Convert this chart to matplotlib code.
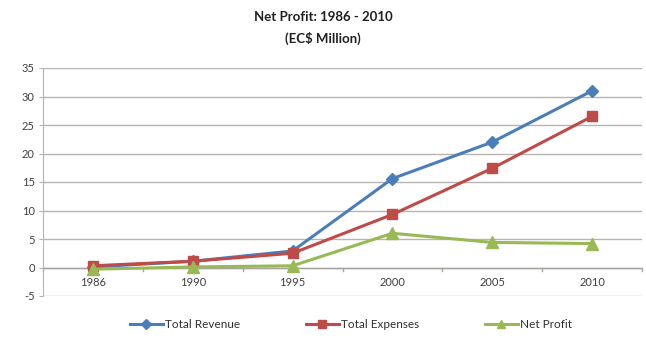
import numpy as np
import matplotlib.pyplot as plt

plt.rcParams['font.family'] = ['Lato', 'DejaVu Sans']
plt.rcParams['axes.unicode_minus'] = False

years = ['1986', '1990', '1995', '2000', '2005', '2010']
revenue = [0.1, 1.1, 2.9, 15.6, 22.0, 31.0]
expenses = [0.3, 1.1, 2.5, 9.3, 17.4, 26.5]
net_profit = [-0.3, 0.1, 0.3, 6.0, 4.4, 4.2]

x = np.arange(len(years))

fig = plt.figure(figsize=(6.46, 3.42), dpi=100)
ax = fig.add_axes([43 / 646, 1 - 296 / 342, (642 - 43) / 646, (296 - 68) / 342])

ax.plot(x, revenue, color='#4a7ebb', lw=2.2, marker='D', ms=6.5, label='Total Revenue')
ax.plot(x, expenses, color='#be4b48', lw=2.2, marker='s', ms=7.5, label='Total Expenses')
ax.plot(x, net_profit, color='#98b954', lw=2.2, marker='^', ms=8, label='Net Profit')

ax.set_xlim(-0.5, len(years) - 0.5)
ax.set_ylim(-5, 35)
ax.set_yticks(range(-5, 36, 5))
ax.yaxis.grid(True, color='#b8b4b0', lw=1)
ax.set_axisbelow(True)

for s in ['top', 'right', 'bottom']:
    ax.spines[s].set_visible(False)
ax.spines['left'].set_color('#b8b4b0')
ax.axhline(0, color='#a8a4a0', lw=1, zorder=1)

# category labels sit under the zero line
ax.set_xticks([])
for i, yr in enumerate(years):
    ax.text(i, -2.6, yr, ha='center', va='center', fontsize=8, color='#404040')
for b in np.arange(-0.5, len(years), 1.0):
    ax.plot([b, b], [0, -0.7], color='#a8a4a0', lw=1, zorder=1, clip_on=False)

ax.tick_params(axis='y', length=3, color='#b8b4b0', labelsize=8, labelcolor='#404040', pad=3)

fig.text(0.5, 1 - 17 / 342, 'Net Profit: 1986 - 2010', ha='center', va='center',
         fontsize=9.5, fontweight='bold', color='#202020')
fig.text(0.5, 1 - 38 / 342, '(EC$ Million)', ha='center', va='center',
         fontsize=9.5, fontweight='bold', color='#202020')

fig.legend(loc='center', bbox_to_anchor=(0.543, 1 - 325 / 342), ncol=3, frameon=False,
           fontsize=8.5, columnspacing=5.6, handlelength=2.8, handletextpad=0.15,
           markerscale=0.8, labelcolor='#303030')

fig.savefig('out.png', dpi=100)
